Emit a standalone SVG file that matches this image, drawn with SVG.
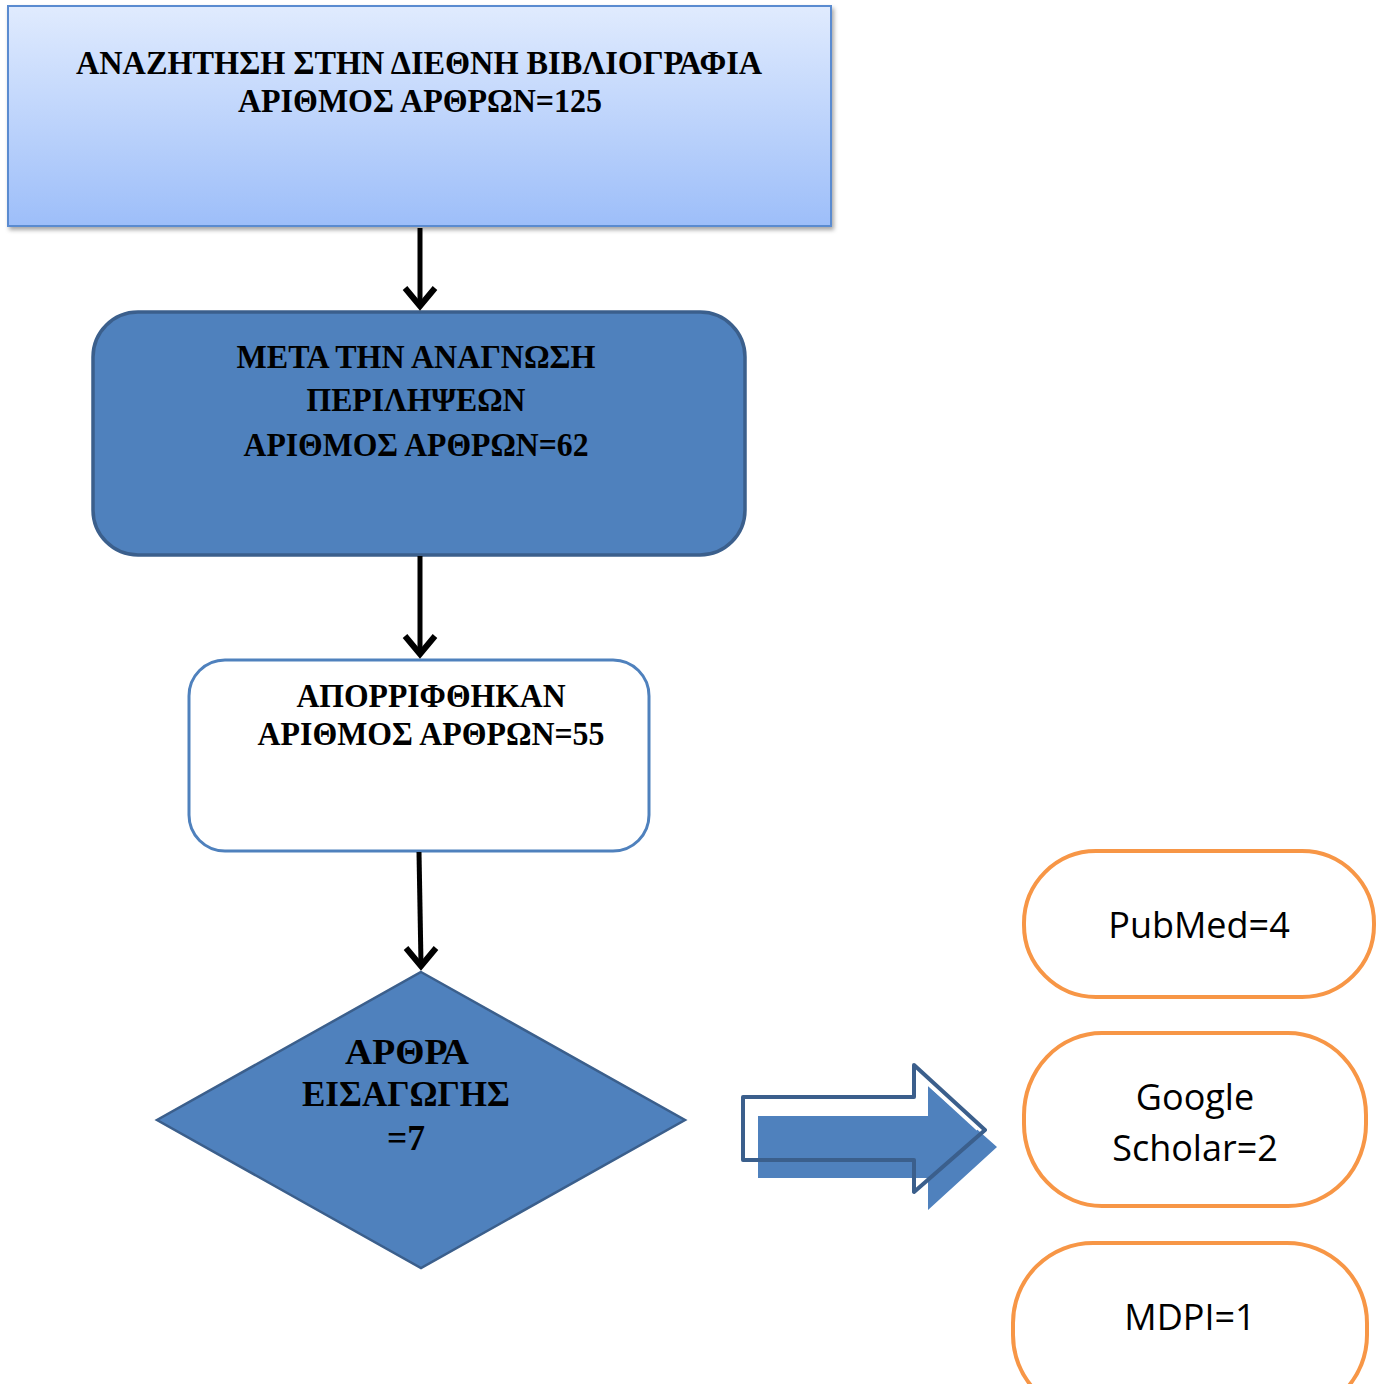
<svg xmlns="http://www.w3.org/2000/svg" width="1384" height="1384" viewBox="0 0 1384 1384">
<defs>
<linearGradient id="g1" x1="0" y1="0" x2="0" y2="1">
<stop offset="0" stop-color="#e0ebfe"/>
<stop offset="1" stop-color="#9dbef9"/>
</linearGradient>
<filter id="sh" x="-5%" y="-5%" width="110%" height="115%">
<feDropShadow dx="2" dy="3" stdDeviation="2" flood-color="#000" flood-opacity="0.35"/>
</filter>
</defs>
<style>
.gr{font-family:"Liberation Serif","Times New Roman",serif;font-weight:bold;font-size:34px;fill:#000;text-anchor:middle}
.gd{font-size:36px}
.sn{font-family:"Open Sans","Noto Sans",sans-serif;font-size:36px;fill:#000;text-anchor:middle}
.pill{fill:#fff;stroke:#f79646;stroke-width:4}
.conn{fill:none;stroke:#000;stroke-width:5}
.head{fill:none;stroke:#000;stroke-width:6;stroke-linejoin:miter}
</style>
<rect width="1384" height="1384" fill="#fff"/>
<g id="n1">
<rect x="8" y="6" width="823" height="220" fill="url(#g1)" stroke="#5a8bd0" stroke-width="2" filter="url(#sh)"/>
<text class="gr" x="419" y="74" textLength="686" lengthAdjust="spacingAndGlyphs">ΑΝΑΖΗΤΗΣΗ ΣΤΗΝ ΔΙΕΘΝΗ ΒΙΒΛΙΟΓΡΑΦΙΑ</text>
<text class="gr" x="420" y="112" textLength="364" lengthAdjust="spacingAndGlyphs">ΑΡΙΘΜΟΣ ΑΡΘΡΩΝ=125</text>
</g>
<g id="n2">
<rect x="93" y="312" width="652" height="243" rx="45" fill="#4f81bd" stroke="#3b5f8c" stroke-width="3.5"/>
<text class="gr" x="416" y="368" textLength="359" lengthAdjust="spacingAndGlyphs">ΜΕΤΑ ΤΗΝ ΑΝΑΓΝΩΣΗ</text>
<text class="gr" x="416" y="411" textLength="219" lengthAdjust="spacingAndGlyphs">ΠΕΡΙΛΗΨΕΩΝ</text>
<text class="gr" x="416" y="456" textLength="345" lengthAdjust="spacingAndGlyphs">ΑΡΙΘΜΟΣ ΑΡΘΡΩΝ=62</text>
</g>
<g id="n3">
<rect x="189" y="660" width="460" height="191" rx="36" fill="#fff" stroke="#4f81bd" stroke-width="3"/>
<text class="gr" x="431" y="707" textLength="269" lengthAdjust="spacingAndGlyphs">ΑΠΟΡΡΙΦΘΗΚΑΝ</text>
<text class="gr" x="431" y="745" textLength="347" lengthAdjust="spacingAndGlyphs">ΑΡΙΘΜΟΣ ΑΡΘΡΩΝ=55</text>
</g>
<g id="n4">
<polygon points="421,972 685,1120 421,1268 157,1120" fill="#4f81bd" stroke="#3b5f8c" stroke-width="2.5"/>
<text class="gr gd" x="407" y="1064" textLength="124" lengthAdjust="spacingAndGlyphs">ΑΡΘΡΑ</text>
<text class="gr gd" x="406" y="1106" textLength="208" lengthAdjust="spacingAndGlyphs">ΕΙΣΑΓΩΓΗΣ</text>
<text class="gr gd" x="406" y="1150" textLength="38" lengthAdjust="spacingAndGlyphs">=7</text>
</g>
<g id="bigarrow">
<polygon points="758,1116 928,1116 928,1086 997,1147 928,1210 928,1178 758,1178" fill="#4f81bd"/>
<path d="M918 1072 L979 1128" fill="none" stroke="#ffffff" stroke-width="7"/>
<polygon points="743,1097 914,1097 914,1065 985,1130 914,1192 914,1160 743,1160" fill="none" stroke="#3b5f8c" stroke-width="4" stroke-linejoin="round"/>
</g>
<g id="p1">
<rect class="pill" x="1024" y="851" width="350" height="146" rx="72"/>
<text class="sn" x="1199" y="938">PubMed=4</text>
</g>
<g id="p2">
<rect class="pill" x="1024" y="1033" width="342" height="173" rx="78" ry="82"/>
<text class="sn" x="1195" y="1110">Google</text>
<text class="sn" x="1195" y="1161">Scholar=2</text>
</g>
<g id="p3">
<rect class="pill" x="1013" y="1243" width="354" height="172" rx="80"/>
<text class="sn" x="1190" y="1330">MDPI=1</text>
</g>
<g id="connectors">
<path class="conn" d="M420 228 L420 304"/>
<path class="head" d="M405 288 L420 306 L435 288"/>
<path class="conn" d="M420 556 L420 652"/>
<path class="head" d="M405 636 L420 654 L435 636"/>
<path class="conn" d="M419 852 L421 964"/>
<path class="head" d="M406 948 L421 966 L436 948"/>
</g>
</svg>
